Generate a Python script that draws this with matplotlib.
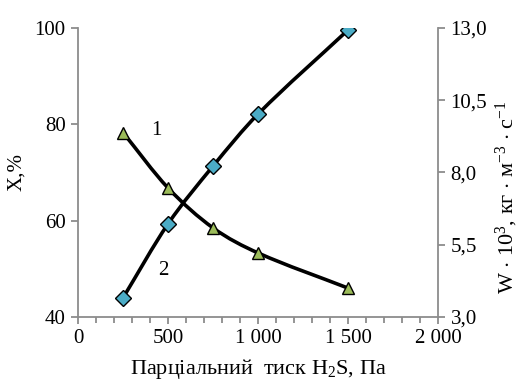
import matplotlib
matplotlib.use("Agg")
import matplotlib.pyplot as plt
from matplotlib.path import Path
from matplotlib.patches import PathPatch
from matplotlib.ticker import FixedLocator, MultipleLocator, FuncFormatter

plt.rcParams['font.family'] = ['Liberation Serif', 'DejaVu Serif']
plt.rcParams['mathtext.fontset'] = 'custom'
plt.rcParams['mathtext.rm'] = 'Liberation Serif'
plt.rcParams['mathtext.it'] = 'Liberation Serif:italic'

# partial pressure of H2S, Pa
pressure = [250, 500, 750, 1000, 1500]
# curve 1: conversion X, %
conversion = [78.3, 66.8, 58.5, 53.3, 46.0]
# curve 2: rate W*10^3, kg/(m3*s)
rate = [3.66, 6.22, 8.22, 10.02, 12.93]

x_ticks = [0, 500, 1000, 1500, 2000]
x_labels = ['0', '500', '1 000', '1 500', '2 000']
left_ticks = [40, 60, 80, 100]
right_ticks = [3.0, 5.5, 8.0, 10.5, 13.0]

AXIS_GRAY = '#8c8c8c'


def smooth_path(xs, ys):
    # piecewise cubic through the points, slopes from neighbouring points
    n = len(xs)
    slopes = []
    for i in range(n):
        a = max(i - 1, 0)
        b = min(i + 1, n - 1)
        slopes.append((ys[b] - ys[a]) / (xs[b] - xs[a]))
    verts = [(xs[0], ys[0])]
    codes = [Path.MOVETO]
    for i in range(n - 1):
        h = (xs[i + 1] - xs[i]) / 3
        c1 = (xs[i] + h, ys[i] + slopes[i] * h)
        c2 = (xs[i + 1] - h, ys[i + 1] - slopes[i + 1] * h)
        verts += [c1, c2, (xs[i + 1], ys[i + 1])]
        codes += [Path.CURVE4] * 3
    return Path(verts, codes)


fig = plt.figure(figsize=(5.2, 3.91), dpi=100)
ax = fig.add_axes([0.15, 0.1893, 0.6923, 0.7391])
ax2 = ax.twinx()

ax.set_xlim(0, 2000)
ax.set_ylim(40, 100)
ax2.set_ylim(3.0, 13.0)

# curve 1 on the left axis
ax.add_patch(PathPatch(smooth_path(pressure, conversion), fill=False,
                       edgecolor='black', lw=2.6, zorder=2))
ax.plot(pressure, conversion, ls='none', marker='^', ms=9,
        mfc='#9bbb59', mec='black', mew=1.0, zorder=3)

# curve 2 on the right axis
ax2.add_patch(PathPatch(smooth_path(pressure, rate), fill=False,
                        edgecolor='black', lw=2.6, zorder=2))
ax2.plot(pressure, rate, ls='none', marker='D', ms=8,
         mfc='#4bacc6', mec='black', mew=1.0, zorder=3)

ax.text(433, 78.8, '1', fontsize=15, ha='center', va='center')
ax.text(472, 49.7, '2', fontsize=15, ha='center', va='center')

for a in (ax, ax2):
    a.spines['top'].set_visible(False)
    for s in ('left', 'right', 'bottom'):
        a.spines[s].set_color(AXIS_GRAY)
        a.spines[s].set_linewidth(1.3)
ax.spines['right'].set_visible(False)
ax2.spines['left'].set_visible(False)
ax2.spines['bottom'].set_visible(False)

ax.xaxis.set_major_locator(FixedLocator(x_ticks))
ax.set_xticklabels(x_labels)
ax.xaxis.set_minor_locator(MultipleLocator(100))
ax.yaxis.set_major_locator(FixedLocator(left_ticks))
ax2.yaxis.set_major_locator(FixedLocator(right_ticks))
ax2.yaxis.set_major_formatter(FuncFormatter(lambda v, p: f'{v:.1f}'.replace('.', ',')))

ax.tick_params(axis='both', which='major', direction='out', length=5,
               width=1.3, color=AXIS_GRAY, labelsize=15, pad=4)
ax.tick_params(axis='x', which='minor', direction='out', length=4,
               width=1.3, color=AXIS_GRAY)
ax2.tick_params(axis='y', which='major', direction='out', length=5,
                width=1.3, color=AXIS_GRAY, labelsize=15, pad=4)

ax.set_xlabel('Парціальний  тиск H$_2$S, Па', fontsize=16, labelpad=6)
ax.set_ylabel('X,%', fontsize=15, labelpad=6)
ax2.set_ylabel('W $\\cdot$ 10$^3$, кг $\\cdot$ м$^{-3}$ $\\cdot$ с$^{-1}$',
               fontsize=16)
ax2.yaxis.set_label_coords(1.155, 0.415)

fig.savefig('out.png', dpi=100)
